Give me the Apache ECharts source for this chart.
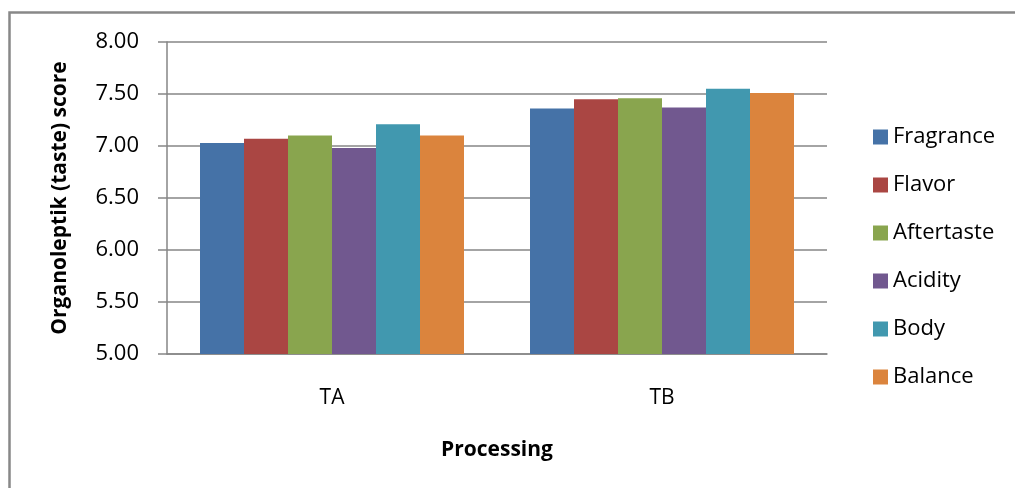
<!DOCTYPE html>
<html>
<head>
<meta charset="utf-8">
<script src="https://cdn.jsdelivr.net/npm/echarts@6/dist/echarts.min.js"></script>
<style>
html,body{margin:0;padding:0;background:#fff;}
#chart{width:1015px;height:488px;}
</style>
</head>
<body>
<div id="chart"></div>
<script>
const categories = ['TA', 'TB'];
const seriesNames = ['Fragrance', 'Flavor', 'Aftertaste', 'Acidity', 'Body', 'Balance'];
const fragrance = [7.03, 7.36];
const flavor = [7.07, 7.45];
const aftertaste = [7.10, 7.46];
const acidity = [6.98, 7.37];
const body = [7.21, 7.55];
const balance = [7.10, 7.51];
const colors = ['#4572A7', '#AA4643', '#89A54E', '#71588F', '#4198AF', '#DB843D'];
const yTicks = { min: 5, max: 8, interval: 0.5 };

const values = [fragrance, flavor, aftertaste, acidity, body, balance];
const FONT = 'Open Sans';

const chart = echarts.init(document.getElementById('chart'), null, { renderer: 'canvas' });
chart.setOption({
  animation: false,
  backgroundColor: '#fff',
  graphic: [{
    type: 'rect',
    shape: { x: 9.5, y: 12.5, width: 1100, height: 600 },
    style: { fill: 'none', stroke: '#888888', lineWidth: 2.5 },
    silent: true
  }],
  grid: { left: 167, right: 188, top: 42, bottom: 134, containLabel: false },
  legend: {
    orient: 'vertical',
    left: 868,
    top: 121,
    itemWidth: 15,
    itemHeight: 15,
    itemGap: 26,
    itemTextGap: 8,
    icon: 'rect',
    textStyle: { fontFamily: FONT, fontSize: 22, color: '#000', lineHeight: 22 },
    data: seriesNames
  },
  xAxis: {
    type: 'category',
    data: categories,
    name: 'Processing',
    nameLocation: 'middle',
    nameGap: 86,
    nameTextStyle: { fontFamily: FONT, fontSize: 21, fontWeight: 'bold', color: '#000' },
    axisLine: { lineStyle: { color: '#868686', width: 1.5 } },
    axisTick: { show: false },
    axisLabel: { fontFamily: FONT, fontSize: 21, color: '#000', margin: 34 }
  },
  yAxis: {
    type: 'value',
    min: yTicks.min,
    max: yTicks.max,
    interval: yTicks.interval,
    name: 'Organoleptik (taste) score',
    nameLocation: 'middle',
    nameGap: 96,
    nameTextStyle: { fontFamily: FONT, fontSize: 21, fontWeight: 'bold', color: '#000' },
    axisLine: { show: true, lineStyle: { color: '#868686', width: 1.5 } },
    axisTick: { show: true, inside: false, length: 9, lineStyle: { color: '#868686', width: 1.5 } },
    splitLine: { show: true, lineStyle: { color: '#868686', width: 1.5 } },
    axisLabel: {
      fontFamily: FONT, fontSize: 22, color: '#000', margin: 28,
      formatter: v => v.toFixed(2)
    }
  },
  series: seriesNames.map((name, i) => ({
    name: name,
    type: 'bar',
    data: values[i],
    barGap: '0%',
    barCategoryGap: '20%',
    itemStyle: { color: colors[i] }
  }))
});
</script>
</body>
</html>
